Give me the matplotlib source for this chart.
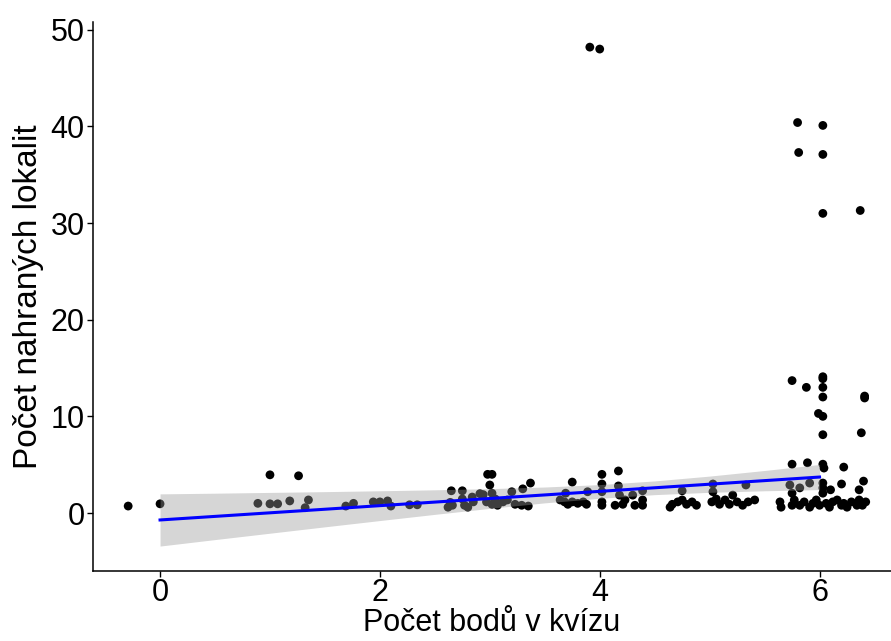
import matplotlib
matplotlib.use("Agg")
import matplotlib.pyplot as plt

plt.rcParams['font.family'] = ['Liberation Sans', 'DejaVu Sans']

# Body (s jitterem)
body_x = [-0.29, 0.0,
          0.89, 1.0, 1.0, 1.07, 1.26, 1.18, 1.35, 1.32,
          1.69, 1.76, 1.94, 2.0, 2.07, 2.1, 2.27, 2.34,
          2.65, 2.75, 2.64, 2.66, 2.62, 2.75, 2.77, 2.84, 2.85, 2.8, 2.91, 2.94,
          2.98, 3.02, 3.0, 3.02, 2.97, 3.02, 3.05, 3.07, 3.12, 3.16, 3.23, 3.29, 3.35,
          3.2, 3.3, 3.37,
          3.69, 3.75, 3.64, 3.68, 3.71, 3.75, 3.8, 3.85, 3.88, 3.89,
          4.02, 4.02, 4.02, 4.02, 4.02,
          4.17, 4.17, 4.18, 4.14, 4.21, 4.23, 4.3, 4.32, 4.39, 4.39, 4.39,
          4.64, 4.66, 4.71, 4.75, 4.79, 4.84, 4.88, 4.75,
          5.03, 5.03, 5.02, 5.06, 5.09, 5.14, 5.18, 5.21, 5.25, 5.3, 5.35, 5.41, 5.33,
          5.75, 5.89, 6.03, 6.04, 6.22,
          5.73, 5.82, 5.75, 5.91, 6.03, 6.03, 6.1, 6.2, 6.36, 6.4,
          5.64, 5.65, 5.75, 5.77, 5.82, 5.86, 5.91, 5.94, 5.97, 6.0, 6.03, 6.06,
          6.09, 6.12, 6.16, 6.2, 6.22, 6.25, 6.29, 6.34, 6.36, 6.39, 6.42,
          5.8, 6.03, 5.81, 6.03, 6.03, 6.37, 5.75, 5.88, 6.03, 6.03, 6.03, 6.03,
          6.41, 6.41, 5.99, 6.03, 6.03, 6.38,
          4.0, 3.91]
body_y = [0.72, 0.95,
          1.0, 3.95, 0.95, 0.95, 3.85, 1.25, 1.35, 0.55,
          0.72, 1.0, 1.15, 1.15, 1.25, 0.72, 0.85, 0.85,
          2.3, 2.3, 1.1, 0.8, 0.6, 1.45, 0.8, 1.65, 1.15, 0.6, 2.0, 1.9,
          4.0, 4.0, 2.9, 2.05, 1.15, 0.9, 1.45, 0.8, 1.15, 1.35, 0.9, 0.8, 0.72,
          2.2, 2.5, 3.1,
          2.05, 3.2, 1.35, 1.15, 0.9, 1.15, 1.0, 1.15, 0.9, 2.2,
          4.0, 3.0, 2.2, 1.15, 0.8,
          4.35, 2.8, 1.85, 0.8, 0.9, 1.35, 1.85, 0.8, 2.3, 1.35, 0.8,
          0.6, 0.9, 1.15, 1.35, 0.9, 1.15, 0.8, 2.3,
          3.0, 2.2, 1.15, 1.45, 0.9, 1.35, 0.9, 1.85, 1.15, 0.8, 1.15, 1.35, 2.9,
          5.05, 5.2, 5.05, 4.65, 4.75,
          2.9, 2.6, 2.05, 3.1, 3.1, 2.6, 2.4, 3.0, 2.4, 3.3,
          1.15, 0.6, 0.8, 1.35, 0.8, 1.15, 0.6, 1.0, 1.35, 0.8, 2.05, 1.0,
          0.6, 1.15, 1.35, 0.8, 1.0, 0.6, 1.15, 0.8, 1.35, 0.8, 1.15,
          40.4, 40.1, 37.3, 37.1, 31.0, 31.3, 13.7, 13.0, 14.1, 13.9, 13.0, 12.0,
          12.1, 11.9, 10.3, 10.0, 8.1, 8.3,
          48.0, 48.2]

# Lineární trend s 95% intervalem spolehlivosti
trend_x = [0, 0.5, 1, 1.5, 2, 2.5, 3, 3.5, 4, 4.5, 5, 5.5, 6]
trend_y = [-0.72, -0.35, 0.02, 0.39, 0.76, 1.13, 1.5, 1.87, 2.24, 2.61, 2.98, 3.35, 3.72]
trend_lo = [-3.42, -2.75, -2.09, -1.43, -0.78, -0.14, 0.48, 1.05, 1.52, 1.90, 2.14, 2.30, 2.42]
trend_hi = [1.98, 2.05, 2.13, 2.21, 2.30, 2.40, 2.52, 2.69, 2.94, 3.32, 3.82, 4.40, 5.02]

x_ticks = [0, 2, 4, 6]
y_ticks = [0, 10, 20, 30, 40, 50]

fig = plt.figure(figsize=(8.91, 6.41), dpi=100)
ax = fig.add_axes([93 / 891, 70 / 641, 798 / 891, 549 / 641])

ax.scatter(body_x, body_y, s=40, color='black', edgecolors='none', zorder=2)
ax.fill_between(trend_x, trend_lo, trend_hi, color='#999999', alpha=0.4,
                linewidth=0, zorder=3)
ax.plot(trend_x, trend_y, color='#0000FF', linewidth=2.2, zorder=4)

ax.set_xlim(-0.61, 6.65)
ax.set_ylim(-6.0, 50.8)
ax.set_xticks(x_ticks)
ax.set_yticks(y_ticks)

ax.set_xlabel("Počet bodů v kvízu", fontsize=22, color='black', labelpad=0)
ax.set_ylabel("Počet nahraných lokalit", fontsize=24, color='black', labelpad=5)

ax.tick_params(labelsize=22, colors='black', length=4, width=1, pad=2)
ax.tick_params(axis='x', pad=1)

# vzhled jako theme_classic
ax.spines['top'].set_visible(False)
ax.spines['right'].set_visible(False)
for s in ['left', 'bottom']:
    ax.spines[s].set_linewidth(1.1)
    ax.spines[s].set_color('black')

fig.savefig("out.png", dpi=100)
